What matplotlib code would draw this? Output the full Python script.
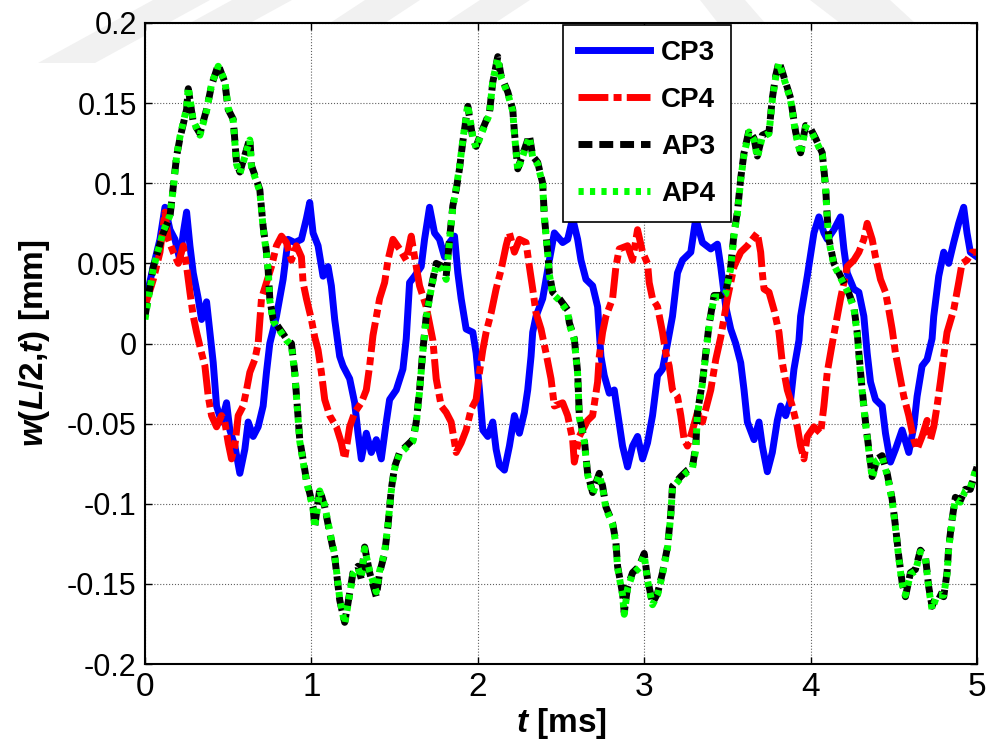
import numpy as np
import matplotlib
matplotlib.use("Agg")
from matplotlib import pyplot as plt
from matplotlib.patches import Polygon

# midspan deflection histories, t in ms, w in mm
t_cp3 = [0.00, 0.05, 0.09, 0.12, 0.15, 0.18, 0.21, 0.23, 0.25, 0.27, 0.29, 0.32, 0.34, 0.37, 0.39,
         0.41, 0.43, 0.46, 0.49, 0.51, 0.54, 0.57, 0.60, 0.62, 0.65, 0.68, 0.71, 0.73, 0.75, 0.79,
         0.83, 0.86, 0.90, 0.94, 0.97, 0.99, 1.01, 1.04, 1.07, 1.10, 1.12, 1.14, 1.17, 1.19, 1.23,
         1.26, 1.28, 1.30, 1.33, 1.36, 1.39, 1.42, 1.45, 1.47, 1.51, 1.55, 1.57, 1.59, 1.62, 1.66,
         1.68, 1.71, 1.74, 1.77, 1.80, 1.83, 1.86, 1.88, 1.90, 1.93, 1.97, 1.99, 2.01, 2.03, 2.06,
         2.09, 2.11, 2.13, 2.16, 2.19, 2.22, 2.25, 2.28, 2.30, 2.32, 2.33, 2.35, 2.39, 2.43, 2.46,
         2.51, 2.54, 2.57, 2.60, 2.62, 2.65, 2.69, 2.72, 2.73, 2.74, 2.76, 2.79, 2.82, 2.84, 2.87,
         2.90, 2.93, 2.96, 2.99, 3.02, 3.05, 3.08, 3.11, 3.14, 3.17, 3.20, 3.23, 3.28, 3.31, 3.35,
         3.40, 3.44, 3.46, 3.49, 3.52, 3.55, 3.58, 3.60, 3.62, 3.66, 3.69, 3.71, 3.74, 3.77, 3.80,
         3.82, 3.85, 3.88, 3.90, 3.93, 3.94, 3.98, 4.02, 4.05, 4.08, 4.10, 4.14, 4.18, 4.20, 4.22,
         4.26, 4.29, 4.32, 4.34, 4.36, 4.39, 4.43, 4.45, 4.48, 4.51, 4.55, 4.59, 4.62, 4.64, 4.67,
         4.70, 4.73, 4.74, 4.77, 4.80, 4.83, 4.86, 4.89, 4.92, 4.94, 4.96, 5.00]
w_cp3 = [0.025, 0.048, 0.065, 0.085, 0.071, 0.065, 0.052, 0.069, 0.082, 0.061, 0.044, 0.028, 0.015, 0.026, 0.007,
         -0.012, -0.039, -0.049, -0.037, -0.054, -0.064, -0.081, -0.066, -0.049, -0.058, -0.052, -0.039, -0.018, 0.000, 0.017,
         0.040, 0.065, 0.063, 0.065, 0.078, 0.088, 0.069, 0.061, 0.042, 0.048, 0.036, 0.015, -0.008, -0.014, -0.022,
         -0.037, -0.056, -0.072, -0.056, -0.068, -0.060, -0.072, -0.049, -0.035, -0.029, -0.016, 0.003, 0.038, 0.042, 0.048,
         0.065, 0.085, 0.069, 0.065, 0.054, 0.063, 0.067, 0.044, 0.028, 0.009, 0.007, -0.006, -0.029, -0.054, -0.058,
         -0.049, -0.066, -0.076, -0.079, -0.064, -0.045, -0.056, -0.043, -0.029, -0.008, 0.007, 0.017, 0.028, 0.052, 0.069,
         0.063, 0.065, 0.078, 0.065, 0.052, 0.040, 0.036, 0.023, 0.007, -0.008, -0.020, -0.031, -0.029, -0.043, -0.064,
         -0.077, -0.064, -0.058, -0.072, -0.062, -0.045, -0.020, -0.016, 0.000, 0.017, 0.044, 0.052, 0.057, 0.078, 0.063,
         0.059, 0.062, 0.048, 0.023, 0.009, 0.000, -0.012, -0.029, -0.049, -0.060, -0.049, -0.064, -0.080, -0.068, -0.048,
         -0.039, -0.045, -0.035, -0.016, 0.002, 0.017, 0.042, 0.069, 0.079, 0.069, 0.065, 0.071, 0.079, 0.059, 0.044,
         0.034, 0.032, 0.017, -0.006, -0.024, -0.035, -0.039, -0.056, -0.074, -0.066, -0.054, -0.068, -0.052, -0.033, -0.014,
         -0.010, 0.003, 0.017, 0.042, 0.057, 0.050, 0.063, 0.075, 0.085, 0.069, 0.057, 0.054]

t_cp4 = [0.00, 0.05, 0.09, 0.12, 0.14, 0.17, 0.20, 0.23, 0.25, 0.27, 0.29, 0.31, 0.34, 0.36, 0.38,
         0.40, 0.43, 0.46, 0.48, 0.50, 0.52, 0.54, 0.56, 0.59, 0.61, 0.63, 0.66, 0.68, 0.70, 0.73,
         0.76, 0.79, 0.82, 0.85, 0.88, 0.91, 0.94, 0.95, 0.97, 1.00, 1.02, 1.04, 1.06, 1.08, 1.11,
         1.15, 1.18, 1.20, 1.23, 1.26, 1.30, 1.33, 1.35, 1.37, 1.41, 1.44, 1.46, 1.49, 1.53, 1.57,
         1.60, 1.62, 1.65, 1.69, 1.73, 1.75, 1.78, 1.81, 1.84, 1.87, 1.90, 1.93, 1.96, 1.99, 2.01,
         2.03, 2.05, 2.08, 2.11, 2.14, 2.17, 2.19, 2.22, 2.25, 2.29, 2.31, 2.33, 2.35, 2.38, 2.41,
         2.44, 2.46, 2.51, 2.54, 2.57, 2.58, 2.61, 2.66, 2.69, 2.72, 2.73, 2.75, 2.77, 2.81, 2.83,
         2.85, 2.90, 2.93, 2.96, 2.99, 3.02, 3.03, 3.05, 3.08, 3.11, 3.13, 3.15, 3.17, 3.20, 3.22,
         3.24, 3.26, 3.29, 3.32, 3.35, 3.40, 3.43, 3.46, 3.50, 3.54, 3.58, 3.62, 3.65, 3.68, 3.70,
         3.71, 3.72, 3.75, 3.78, 3.81, 3.83, 3.86, 3.89, 3.92, 3.94, 3.96, 3.98, 4.02, 4.06, 4.08,
         4.10, 4.13, 4.18, 4.22, 4.26, 4.29, 4.32, 4.34, 4.37, 4.39, 4.42, 4.45, 4.47, 4.49, 4.51,
         4.54, 4.56, 4.59, 4.62, 4.64, 4.67, 4.70, 4.72, 4.74, 4.76, 4.78, 4.80, 4.82, 4.86, 4.89,
         4.91, 4.94, 4.97, 5.00]
w_cp4 = [0.023, 0.040, 0.057, 0.082, 0.065, 0.057, 0.050, 0.061, 0.048, 0.032, 0.017, 0.007, -0.006, -0.014, -0.033,
         -0.045, -0.052, -0.045, -0.049, -0.062, -0.072, -0.064, -0.045, -0.039, -0.029, -0.018, -0.010, 0.000, 0.028, 0.038,
         0.048, 0.061, 0.067, 0.063, 0.052, 0.061, 0.054, 0.038, 0.028, 0.015, 0.004, -0.004, -0.018, -0.035, -0.045,
         -0.052, -0.062, -0.072, -0.052, -0.043, -0.037, -0.029, -0.014, 0.005, 0.028, 0.038, 0.052, 0.065, 0.059, 0.052,
         0.067, 0.054, 0.036, 0.023, 0.002, -0.022, -0.039, -0.043, -0.049, -0.068, -0.062, -0.054, -0.041, -0.035, -0.018,
         -0.004, 0.007, 0.019, 0.034, 0.046, 0.061, 0.069, 0.057, 0.065, 0.063, 0.048, 0.034, 0.019, 0.009, -0.006,
         -0.022, -0.039, -0.037, -0.045, -0.060, -0.074, -0.058, -0.048, -0.045, -0.024, -0.008, 0.007, 0.017, 0.028, 0.048,
         0.059, 0.061, 0.052, 0.071, 0.057, 0.050, 0.038, 0.028, 0.023, 0.007, -0.006, -0.014, -0.029, -0.033, -0.045,
         -0.060, -0.064, -0.054, -0.043, -0.049, -0.029, -0.010, 0.004, 0.028, 0.048, 0.057, 0.061, 0.065, 0.069, 0.057,
         0.044, 0.034, 0.032, 0.021, 0.007, -0.012, -0.029, -0.039, -0.052, -0.064, -0.072, -0.058, -0.052, -0.056, -0.039,
         -0.018, 0.000, 0.028, 0.048, 0.052, 0.057, 0.065, 0.075, 0.065, 0.054, 0.040, 0.032, 0.021, 0.009, -0.006,
         -0.022, -0.033, -0.045, -0.060, -0.066, -0.058, -0.048, -0.060, -0.052, -0.039, -0.024, -0.008, 0.007, 0.021, 0.038,
         0.050, 0.052, 0.057, 0.057]

t_ap = [0.00, 0.05, 0.11, 0.15, 0.17, 0.19, 0.21, 0.25, 0.26, 0.29, 0.33, 0.37, 0.40, 0.44, 0.48,
        0.50, 0.53, 0.55, 0.57, 0.63, 0.64, 0.69, 0.71, 0.73, 0.74, 0.75, 0.77, 0.81, 0.85, 0.88,
        0.90, 0.93, 0.97, 1.01, 1.02, 1.05, 1.08, 1.11, 1.14, 1.17, 1.20, 1.22, 1.25, 1.28, 1.30,
        1.32, 1.35, 1.39, 1.41, 1.44, 1.46, 1.48, 1.50, 1.53, 1.57, 1.61, 1.63, 1.65, 1.67, 1.69,
        1.72, 1.75, 1.79, 1.81, 1.83, 1.85, 1.87, 1.89, 1.91, 1.94, 1.97, 1.99, 2.03, 2.07, 2.09,
        2.12, 2.14, 2.18, 2.21, 2.22, 2.24, 2.28, 2.31, 2.33, 2.36, 2.39, 2.40, 2.42, 2.43, 2.45,
        2.49, 2.54, 2.55, 2.58, 2.60, 2.61, 2.64, 2.66, 2.69, 2.73, 2.75, 2.77, 2.81, 2.83, 2.84,
        2.87, 2.88, 2.90, 2.93, 2.97, 3.00, 3.02, 3.05, 3.08, 3.11, 3.14, 3.16, 3.17, 3.22, 3.26,
        3.29, 3.31, 3.32, 3.35, 3.37, 3.39, 3.42, 3.46, 3.49, 3.52, 3.54, 3.56, 3.58, 3.60, 3.63,
        3.66, 3.68, 3.71, 3.75, 3.77, 3.79, 3.81, 3.85, 3.88, 3.91, 3.94, 3.97, 4.00, 4.03, 4.07,
        4.09, 4.10, 4.11, 4.14, 4.18, 4.22, 4.26, 4.28, 4.29, 4.31, 4.33, 4.35, 4.37, 4.40, 4.43,
        4.46, 4.49, 4.51, 4.53, 4.55, 4.57, 4.60, 4.63, 4.66, 4.69, 4.71, 4.73, 4.76, 4.80, 4.82,
        4.83, 4.85, 4.87, 4.90, 4.93, 4.96, 5.00]
w_ap3 = [0.017, 0.048, 0.069, 0.079, 0.098, 0.117, 0.128, 0.146, 0.159, 0.138, 0.131, 0.146, 0.161, 0.174, 0.163,
         0.146, 0.140, 0.113, 0.107, 0.128, 0.111, 0.096, 0.073, 0.057, 0.046, 0.028, 0.015, 0.009, 0.003, 0.000,
         -0.018, -0.060, -0.085, -0.102, -0.114, -0.091, -0.102, -0.118, -0.133, -0.160, -0.174, -0.162, -0.143, -0.139, -0.147,
         -0.127, -0.143, -0.158, -0.143, -0.131, -0.114, -0.091, -0.077, -0.068, -0.064, -0.060, -0.049, -0.029, -0.004, 0.017,
         0.035, 0.050, 0.048, 0.042, 0.065, 0.086, 0.096, 0.109, 0.126, 0.148, 0.128, 0.123, 0.134, 0.144, 0.163,
         0.179, 0.167, 0.157, 0.146, 0.132, 0.109, 0.121, 0.130, 0.117, 0.113, 0.100, 0.079, 0.057, 0.044, 0.032,
         0.028, 0.021, 0.013, 0.003, -0.018, -0.045, -0.060, -0.081, -0.093, -0.081, -0.089, -0.102, -0.112, -0.124, -0.139,
         -0.156, -0.168, -0.152, -0.143, -0.139, -0.131, -0.147, -0.162, -0.156, -0.143, -0.127, -0.106, -0.089, -0.083, -0.079,
         -0.077, -0.064, -0.043, -0.024, -0.006, 0.012, 0.030, 0.030, 0.032, 0.048, 0.069, 0.082, 0.103, 0.119, 0.133,
         0.128, 0.117, 0.130, 0.132, 0.153, 0.167, 0.176, 0.163, 0.153, 0.132, 0.119, 0.136, 0.134, 0.128, 0.119,
         0.098, 0.079, 0.065, 0.050, 0.042, 0.034, 0.023, 0.007, -0.006, -0.029, -0.049, -0.066, -0.083, -0.072, -0.070,
         -0.081, -0.097, -0.114, -0.133, -0.149, -0.158, -0.143, -0.141, -0.129, -0.133, -0.152, -0.164, -0.156, -0.158, -0.143,
         -0.127, -0.110, -0.096, -0.098, -0.091, -0.091, -0.077]
w_ap4 = [0.015, 0.047, 0.070, 0.080, 0.097, 0.117, 0.129, 0.147, 0.160, 0.139, 0.130, 0.145, 0.162, 0.173, 0.164,
         0.147, 0.139, 0.112, 0.106, 0.127, 0.110, 0.095, 0.072, 0.056, 0.046, 0.027, 0.014, 0.008, 0.002, -0.001,
         -0.019, -0.061, -0.086, -0.103, -0.115, -0.092, -0.101, -0.117, -0.132, -0.159, -0.175, -0.163, -0.144, -0.140, -0.146,
         -0.128, -0.142, -0.155, -0.142, -0.130, -0.113, -0.092, -0.078, -0.069, -0.065, -0.061, -0.050, -0.030, -0.005, 0.016,
         0.034, 0.049, 0.046, 0.040, 0.064, 0.085, 0.097, 0.110, 0.127, 0.149, 0.129, 0.122, 0.133, 0.143, 0.164,
         0.178, 0.166, 0.156, 0.145, 0.131, 0.108, 0.120, 0.129, 0.116, 0.112, 0.099, 0.078, 0.056, 0.043, 0.031,
         0.027, 0.020, 0.012, 0.002, -0.019, -0.046, -0.061, -0.082, -0.094, -0.082, -0.090, -0.103, -0.113, -0.125, -0.140,
         -0.157, -0.169, -0.153, -0.144, -0.140, -0.132, -0.148, -0.163, -0.157, -0.144, -0.128, -0.107, -0.090, -0.084, -0.080,
         -0.078, -0.066, -0.044, -0.025, -0.007, 0.011, 0.029, 0.029, 0.031, 0.047, 0.068, 0.081, 0.102, 0.118, 0.132,
         0.127, 0.116, 0.129, 0.131, 0.152, 0.166, 0.175, 0.162, 0.152, 0.131, 0.118, 0.135, 0.133, 0.127, 0.118,
         0.097, 0.078, 0.064, 0.049, 0.041, 0.033, 0.022, 0.006, -0.007, -0.030, -0.050, -0.067, -0.084, -0.073, -0.071,
         -0.082, -0.098, -0.115, -0.134, -0.150, -0.157, -0.144, -0.142, -0.130, -0.134, -0.153, -0.166, -0.157, -0.157, -0.144,
         -0.128, -0.111, -0.097, -0.099, -0.092, -0.090, -0.076]

x_ticks = [0, 1, 2, 3, 4, 5]
y_ticks = [-0.2, -0.15, -0.1, -0.05, 0, 0.05, 0.1, 0.15, 0.2]

plt.rcParams['font.family'] = ['Liberation Sans', 'DejaVu Sans']
plt.rcParams['axes.unicode_minus'] = False
plt.rcParams['mathtext.fontset'] = 'custom'
plt.rcParams['mathtext.it'] = 'Liberation Sans:italic:bold'
plt.rcParams['mathtext.rm'] = 'Liberation Sans:bold'
plt.rcParams['mathtext.bf'] = 'Liberation Sans:bold'

W, H = 990, 751
fig = plt.figure(figsize=(W / 100, H / 100), dpi=100)

# faint page stamp along the top edge (pixel corners, y measured from top)
stamp = [
    [(38, 63), (95, 63), (210, 0), (153, 0)],
    [(190, 23), (250, 23), (292, 0), (232, 0)],
    [(330, 23), (385, 23), (420, 0), (365, 0)],
    [(445, 23), (495, 23), (530, 0), (480, 0)],
    [(700, 0), (745, 0), (765, 23), (718, 23)],
    [(810, 0), (890, 0), (915, 23), (840, 23)],
]
for poly in stamp:
    fig.patches.append(Polygon([(x / W, 1 - y / H) for x, y in poly], closed=True,
                               transform=fig.transFigure, facecolor='#f1f1f1',
                               edgecolor='none', zorder=-5))

ax = fig.add_axes([145 / W, 1 - 664 / H, 832 / W, 641 / H])
ax.set_zorder(1)

lw = 5
ax.plot(t_cp3, w_cp3, color='#0000ff', lw=lw, ls='-', label='CP3')
ax.plot(t_cp4, w_cp4, color='#ff0000', lw=lw, ls=(0, (4.3, 0.75, 1.15, 0.75)), label='CP4')
ax.plot(t_ap, w_ap3, color='black', lw=lw, ls=(0, (2.0, 1.0)), label='AP3')
ax.plot(t_ap, w_ap4, color='#00ff00', lw=lw, ls=(0, (0.75, 0.9)), label='AP4')

ax.set_xlim(0, 5)
ax.set_ylim(-0.2, 0.2)
ax.set_xticks(x_ticks)
ax.set_yticks(y_ticks)
ax.set_xticklabels(['%g' % v for v in x_ticks])
ax.set_yticklabels(['%g' % v for v in y_ticks])
ax.tick_params(axis='both', direction='in', length=5, width=1, top=True, right=True)
ax.tick_params(axis='x', labelsize=24, pad=6)
ax.tick_params(axis='y', labelsize=22, pad=6)
for s in ax.spines.values():
    s.set_linewidth(1.5)
ax.grid(True, ls=':', color='#606060', lw=0.8)

ax.set_xlabel(r'$\mathit{t}$ [ms]', fontsize=24, fontweight='bold', labelpad=2)
ax.set_ylabel(r'$\mathit{w(L{/}2{,}t)}$ [mm]', fontsize=24, fontweight='bold', labelpad=11)

leg = ax.legend(loc='upper right', bbox_to_anchor=(0.704, 0.997), borderaxespad=0,
                prop={'size': 20, 'weight': 'bold'},
                handlelength=2.6, handletextpad=0.4, labelspacing=0.75, borderpad=0.55,
                fancybox=False, framealpha=1, edgecolor='black')
leg.get_frame().set_linewidth(1.2)

fig.savefig('out.png', dpi=100)
